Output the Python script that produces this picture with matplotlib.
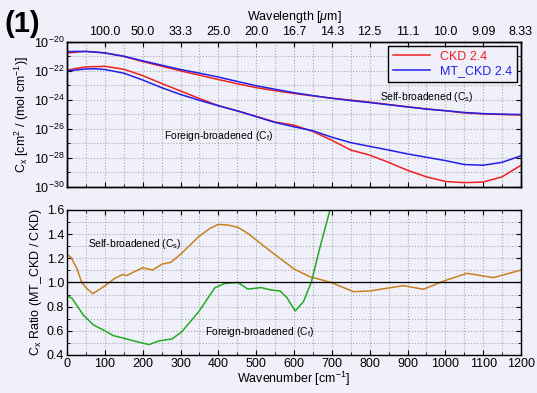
import matplotlib
matplotlib.use("Agg")
import matplotlib.pyplot as plt
import numpy as np

plt.rcParams['font.family'] = ['Liberation Sans', 'DejaVu Sans']
plt.rcParams['mathtext.fontset'] = 'custom'
plt.rcParams['mathtext.rm'] = 'Liberation Sans'
plt.rcParams['mathtext.it'] = 'Liberation Sans:italic'
plt.rcParams['axes.unicode_minus'] = False

# Kontinuum (log10 wartosci) - gorny panel
wn_top = [0, 25, 50, 75, 100, 150, 200, 250, 300, 350, 400, 450, 500, 550, 600,
          650, 700, 750, 800, 850, 900, 950, 1000, 1050, 1100, 1150, 1200]
self_mt = [-20.67, -20.65, -20.66, -20.70, -20.76, -20.98, -21.30, -21.60, -21.90, -22.15,
           -22.42, -22.72, -23.02, -23.26, -23.50, -23.70, -23.88, -24.04, -24.18, -24.33,
           -24.48, -24.63, -24.74, -24.86, -24.94, -24.98, -25.00]
self_ckd = [-20.76, -20.70, -20.64, -20.70, -20.75, -21.00, -21.35, -21.67, -21.99, -22.29,
            -22.59, -22.88, -23.15, -23.36, -23.55, -23.72, -23.88, -24.01, -24.15, -24.31,
            -24.47, -24.61, -24.74, -24.89, -24.96, -25.00, -25.04]
for_mt = [-22.00, -21.93, -21.86, -21.85, -21.90, -22.15, -22.62, -23.15, -23.62, -24.02,
          -24.40, -24.75, -25.15, -25.55, -25.85, -26.12, -26.57, -26.94, -27.20, -27.45,
          -27.72, -27.95, -28.18, -28.45, -28.50, -28.30, -27.85]
for_ckd = [-21.95, -21.82, -21.72, -21.70, -21.68, -21.88, -22.32, -22.86, -23.38, -23.90,
           -24.39, -24.75, -25.13, -25.52, -25.74, -26.17, -26.78, -27.45, -27.80, -28.30,
           -28.85, -29.30, -29.62, -29.70, -29.66, -29.30, -28.50]

# Stosunek MT_CKD / CKD - dolny panel
wn_rs = [0, 10, 26, 39, 52, 68, 87, 104, 126, 148, 157, 174, 200, 226, 252, 274, 300,
         348, 378, 400, 426, 452, 478, 537, 600, 641, 698, 757, 801, 889, 942, 995,
         1057, 1127, 1200]
ratio_s = [1.233, 1.21, 1.117, 1.0, 0.952, 0.907, 0.945, 0.981, 1.034, 1.067, 1.056,
           1.083, 1.122, 1.103, 1.153, 1.166, 1.233, 1.379, 1.448, 1.481, 1.475, 1.456,
           1.406, 1.261, 1.112, 1.049, 1.0, 0.924, 0.93, 0.974, 0.944, 1.011, 1.076,
           1.04, 1.103]
wn_rf = [0, 13, 43, 70, 96, 122, 157, 191, 217, 243, 278, 304, 348, 391, 417, 452, 478,
         513, 537, 563, 581, 603, 625, 646, 668, 695, 710]
ratio_f = [0.891, 0.87, 0.731, 0.648, 0.607, 0.561, 0.533, 0.505, 0.486, 0.517, 0.533,
           0.594, 0.758, 0.957, 0.992, 1.0, 0.945, 0.958, 0.939, 0.93, 0.876, 0.764,
           0.841, 1.005, 1.283, 1.6, 1.8]

wl_ticks = [100, 200, 300, 400, 500, 600, 700, 800, 900, 1000, 1100, 1200]
wl_labels = ["100.0", "50.0", "33.3", "25.0", "20.0", "16.7", "14.3", "12.5",
             "11.1", "10.0", "9.09", "8.33"]

bg = "#f0f0fa"
red = "#f02020"
blue = "#2020e8"
orange = "#c8801e"
green = "#22aa22"

fig = plt.figure(figsize=(5.37, 3.93), dpi=100, facecolor=bg)
ax1 = fig.add_axes([0.1248, 0.5242, 0.8454, 0.369], facecolor=bg)
ax2 = fig.add_axes([0.1248, 0.0967, 0.8454, 0.369], facecolor=bg)

ax1.plot(wn_top, 10.0 ** np.array(self_ckd), color=red, lw=1.1)
ax1.plot(wn_top, 10.0 ** np.array(self_mt), color=blue, lw=1.1)
ax1.plot(wn_top, 10.0 ** np.array(for_ckd), color=red, lw=1.1, label="CKD 2.4")
ax1.plot(wn_top, 10.0 ** np.array(for_mt), color=blue, lw=1.1, label="MT_CKD 2.4")
ax1.set_yscale("log")
ax1.set_ylim(1e-30, 1e-20)
ax1.set_xlim(0, 1200)
ax1.set_yticks([10.0 ** e for e in range(-30, -19, 2)])
ax1.set_yticks([10.0 ** e for e in range(-29, -20, 2)], minor=True)
ax1.yaxis.set_minor_formatter(matplotlib.ticker.NullFormatter())
ax1.set_xticks(range(0, 1201, 100))
ax1.set_xticks(range(50, 1201, 100), minor=True)
ax1.set_xticklabels([])
ax1.grid(True, which="both", ls=":", color="#aaaaaa", lw=0.8)
ax1.set_ylabel("C$_\\mathrm{x}$ [cm$^2$ / (mol cm$^{-1}$)]", fontsize=9, labelpad=2)
ax1.tick_params(which="both", direction="in", right=True, labelsize=9, pad=2)
ax1.tick_params(which="minor", length=2)

ax1t = ax1.twiny()
ax1t.set_xlim(0, 1200)
ax1t.set_xticks(wl_ticks)
ax1t.set_xticklabels(wl_labels)
ax1t.tick_params(direction="in", labelsize=9, pad=3)
ax1t.set_xlabel("Wavelength [$\\mu$m]", fontsize=9, labelpad=4)

leg = ax1.legend(loc="upper right", fontsize=9, frameon=True, fancybox=False,
                 edgecolor="black", facecolor=bg, framealpha=1, handlelength=3,
                 borderaxespad=0.3, labelspacing=0.2)
leg.get_frame().set_linewidth(1.0)
for txt, c in zip(leg.get_texts(), [red, blue]):
    txt.set_color(c)

ax1.text(950, 10 ** -23.8, "Self-broadened (C$_\\mathrm{s}$)", fontsize=7.5,
         ha="center", va="center")
ax1.text(400, 10 ** -26.5, "Foreign-broadened (C$_\\mathrm{f}$)", fontsize=7.5,
         ha="center", va="center")

ax2.plot(wn_rs, ratio_s, color=orange, lw=1.1)
ax2.plot(wn_rf, ratio_f, color=green, lw=1.1)
ax2.axhline(1.0, color="black", lw=0.9)
ax2.set_xlim(0, 1200)
ax2.set_ylim(0.4, 1.6)
ax2.set_xticks(range(0, 1201, 100))
ax2.set_xticks(range(50, 1201, 100), minor=True)
ax2.set_yticks(np.arange(0.4, 1.61, 0.2))
ax2.set_yticks(np.arange(0.5, 1.6, 0.2), minor=True)
ax2.yaxis.set_major_formatter(matplotlib.ticker.FormatStrFormatter("%.1f"))
ax2.grid(True, which="both", ls=":", color="#aaaaaa", lw=0.8)
ax2.tick_params(which="both", direction="in", right=True, top=True, labelsize=9, pad=2)
ax2.tick_params(which="minor", length=2)
ax2.set_xlabel("Wavenumber [cm$^{-1}$]", fontsize=9, labelpad=0)
ax2.set_ylabel("C$_\\mathrm{x}$ Ratio (MT_CKD / CKD)", fontsize=9, labelpad=2)
ax2.text(180, 1.32, "Self-broadened (C$_\\mathrm{s}$)", fontsize=7.5, ha="center", va="center")
ax2.text(510, 0.59, "Foreign-broadened (C$_\\mathrm{f}$)", fontsize=7.5, ha="center", va="center")

for ax in (ax1, ax2, ax1t):
    for s in ax.spines.values():
        s.set_linewidth(1.0)

fig.text(0.008, 0.94, "(1)", fontsize=21, fontweight="bold", va="center", ha="left")

fig.savefig("out.png", dpi=100, facecolor=bg)
